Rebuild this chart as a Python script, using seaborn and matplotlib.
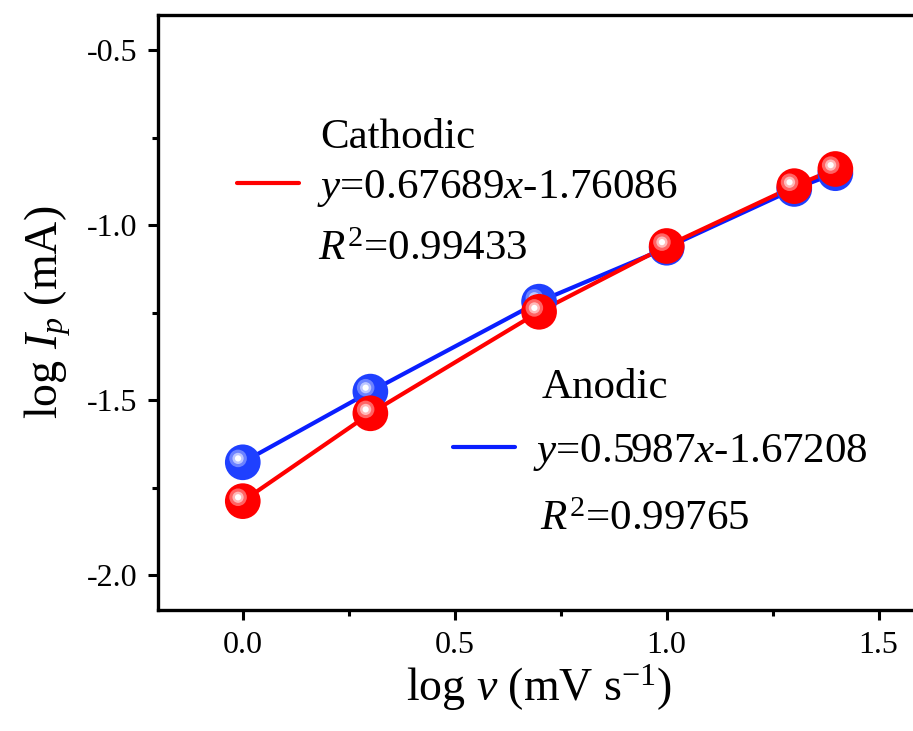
import numpy as np
import pandas as pd
import matplotlib
matplotlib.use("Agg")
import matplotlib.pyplot as plt
import matplotlib.transforms as mtransforms
from matplotlib.lines import Line2D
import seaborn as sns

# ---- data ----
log_v = [0.0, 0.301, 0.699, 1.0, 1.301, 1.398]
cathodic = [-1.789, -1.538, -1.248, -1.060, -0.889, -0.840]
anodic = [-1.678, -1.476, -1.219, -1.065, -0.897, -0.852]
cath_eq = r"$y$=0.67689$x$-1.76086"
cath_r2 = r"$R^2$=0.99433"
anod_eq = r"$y$=0.5987$x$-1.67208"
anod_r2 = r"$R^2$=0.99765"
x_ticks = [0.0, 0.5, 1.0, 1.5]
y_ticks = [-2.0, -1.5, -1.0, -0.5]

sns.set_theme(style="ticks")
plt.rcParams["font.family"] = ["Liberation Serif", "DejaVu Serif"]
plt.rcParams["mathtext.fontset"] = "custom"
plt.rcParams["mathtext.rm"] = "Liberation Serif"
plt.rcParams["mathtext.it"] = "Liberation Serif:italic"
plt.rcParams["mathtext.bf"] = "Liberation Serif:bold"
plt.rcParams["text.color"] = "black"
plt.rcParams["axes.labelcolor"] = "black"
plt.rcParams["xtick.color"] = "black"
plt.rcParams["ytick.color"] = "black"

fig = plt.figure(figsize=(9.13, 7.31), dpi=100)
ax = fig.add_axes([158 / 913, 1 - 610 / 731, 763 / 913, 595 / 731])

df = pd.DataFrame({"x": log_v * 2,
                   "y": cathodic + anodic,
                   "series": ["Cathodic"] * 6 + ["Anodic"] * 6})

red_line, blue_line = "#ff0000", "#0a1eff"
red_ball, blue_ball = "#ff0000", "#1f40ff"

sns.lineplot(data=df[df.series == "Anodic"], x="x", y="y", color=blue_line,
             lw=3.0, ax=ax, zorder=2, legend=False)
sns.lineplot(data=df[df.series == "Cathodic"], x="x", y="y", color=red_line,
             lw=3.0, ax=ax, zorder=3, legend=False)

def balls(xs, ys, base, halo, z):
    ax.scatter(xs, ys, s=660, color=base, edgecolors="none", zorder=z)
    off = mtransforms.offset_copy(ax.transData, fig=fig, x=-3.4, y=2.8, units="points")
    ax.scatter(xs, ys, s=160, color=halo, edgecolors="none", zorder=z + 0.1,
               transform=off, alpha=0.7)
    ax.scatter(xs, ys, s=65, color="white", edgecolors="none", zorder=z + 0.2,
               transform=off, alpha=0.55)
    ax.scatter(xs, ys, s=20, color="white", edgecolors="none", zorder=z + 0.3,
               transform=off)

balls(log_v, anodic, blue_ball, "#8fa0ff", 4)
balls(log_v, cathodic, red_ball, "#ff8f8f", 5)

ax.set_xlim(-0.2, 1.6)
ax.set_ylim(-2.1, -0.4)
ax.set_xticks(x_ticks)
ax.set_xticklabels([f"{t:.1f}" for t in x_ticks], fontsize=23)
ax.set_yticks(y_ticks)
ax.set_yticklabels([f"{t:.1f}" for t in y_ticks], fontsize=23)
ax.set_xticks([0.25, 0.75, 1.25], minor=True)
ax.set_yticks([-1.75, -1.25, -0.75], minor=True)
ax.tick_params(which="major", direction="out", length=7, width=2.2,
               color="black", labelcolor="black", pad=8)
ax.tick_params(which="minor", direction="out", length=4, width=2.2, color="black")
for sp in ax.spines.values():
    sp.set_linewidth(2.4)
    sp.set_color("black")

ax.set_xlabel(r"log $v$ (mV s$^{\mathregular{-1}}$)", fontsize=33, labelpad=2)
ax.set_ylabel(r"log $I_p$ (mA)", fontsize=33, labelpad=10)

fs = 31
leg1 = ax.legend(handles=[Line2D([], [], color=red_line, lw=3.0)], labels=[cath_eq],
                 loc="center left", bbox_to_anchor=((237 - 158) / 763, 0.708),
                 frameon=False, fontsize=fs, handlelength=1.45, handletextpad=0.4,
                 borderpad=0, borderaxespad=0, labelcolor="black")
ax.add_artist(leg1)
ax.legend(handles=[Line2D([], [], color=blue_line, lw=3.0)], labels=[anod_eq],
          loc="center left", bbox_to_anchor=((453 - 158) / 763, 0.264),
          frameon=False, fontsize=fs, handlelength=1.45, handletextpad=0.4,
          borderpad=0, borderaxespad=0, labelcolor="black")

ax.text(0.212, 0.793, "Cathodic", transform=ax.transAxes, fontsize=fs,
        va="center", ha="left", color="black")
ax.text(0.210, 0.605, cath_r2, transform=ax.transAxes, fontsize=fs,
        va="center", ha="left", color="black")
ax.text(0.503, 0.373, "Anodic", transform=ax.transAxes, fontsize=fs,
        va="center", ha="left", color="black")
ax.text(0.501, 0.151, anod_r2, transform=ax.transAxes, fontsize=fs,
        va="center", ha="left", color="black")

fig.savefig("out.png", dpi=100)
